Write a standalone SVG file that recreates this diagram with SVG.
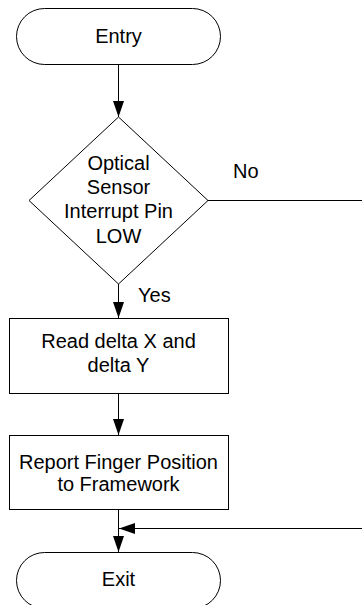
<svg xmlns="http://www.w3.org/2000/svg" width="362" height="605" viewBox="0 0 362 605">
<style>
.s{fill:#fff;stroke:#000;stroke-width:1}
.t{font-family:"Liberation Sans",Arial,sans-serif;font-size:20px;fill:#000;text-anchor:middle}
.l{font-family:"Liberation Sans",Arial,sans-serif;font-size:20px;fill:#000}
.c{fill:none;stroke:#000;stroke-width:1}
</style>
<defs>
<marker id="a" markerUnits="userSpaceOnUse" markerWidth="16" markerHeight="12" refX="16" refY="6" orient="auto">
<path d="M0,0.5 L16,6 L0,11.5 Z" fill="#000"/>
</marker>
</defs>
<g id="connectors">
<line class="c" x1="118.5" y1="64.5" x2="118.5" y2="117" marker-end="url(#a)"/>
<line class="c" x1="118.5" y1="283" x2="118.5" y2="318" marker-end="url(#a)"/>
<line class="c" x1="118.5" y1="393.5" x2="118.5" y2="435" marker-end="url(#a)"/>
<line class="c" x1="118.5" y1="509.5" x2="118.5" y2="552" marker-end="url(#a)"/>
<line class="c" x1="207" y1="200.5" x2="365" y2="200.5"/>
<line class="c" x1="365" y1="528.5" x2="119" y2="528.5" marker-end="url(#a)"/>
<text class="l" x="233" y="178">No</text>
<text class="l" x="138" y="302">Yes</text>
</g>
<g id="entry">
<rect class="s" x="16.5" y="8.5" width="204" height="56" rx="28" ry="28"/>
<text class="t" x="118.5" y="43">Entry</text>
</g>
<g id="decision">
<polygon class="s" points="118.5,117 208,200.5 118.5,284 29,200.5"/>
<text class="t" x="118.5" y="170">Optical</text>
<text class="t" x="118.5" y="194">Sensor</text>
<text class="t" x="118.5" y="218">Interrupt Pin</text>
<text class="t" x="118.5" y="242.5">LOW</text>
</g>
<g id="read">
<rect class="s" x="9.5" y="318.5" width="219" height="75"/>
<text class="t" x="118.5" y="348">Read delta X and</text>
<text class="t" x="118.5" y="372">delta Y</text>
</g>
<g id="report">
<rect class="s" x="9.5" y="435.5" width="219" height="74"/>
<text class="t" x="118.5" y="469">Report Finger Position</text>
<text class="t" x="118.5" y="491">to Framework</text>
</g>
<g id="exit">
<rect class="s" x="16.5" y="552.5" width="204" height="56" rx="28" ry="28"/>
<text class="t" x="118.5" y="586">Exit</text>
</g>
</svg>
